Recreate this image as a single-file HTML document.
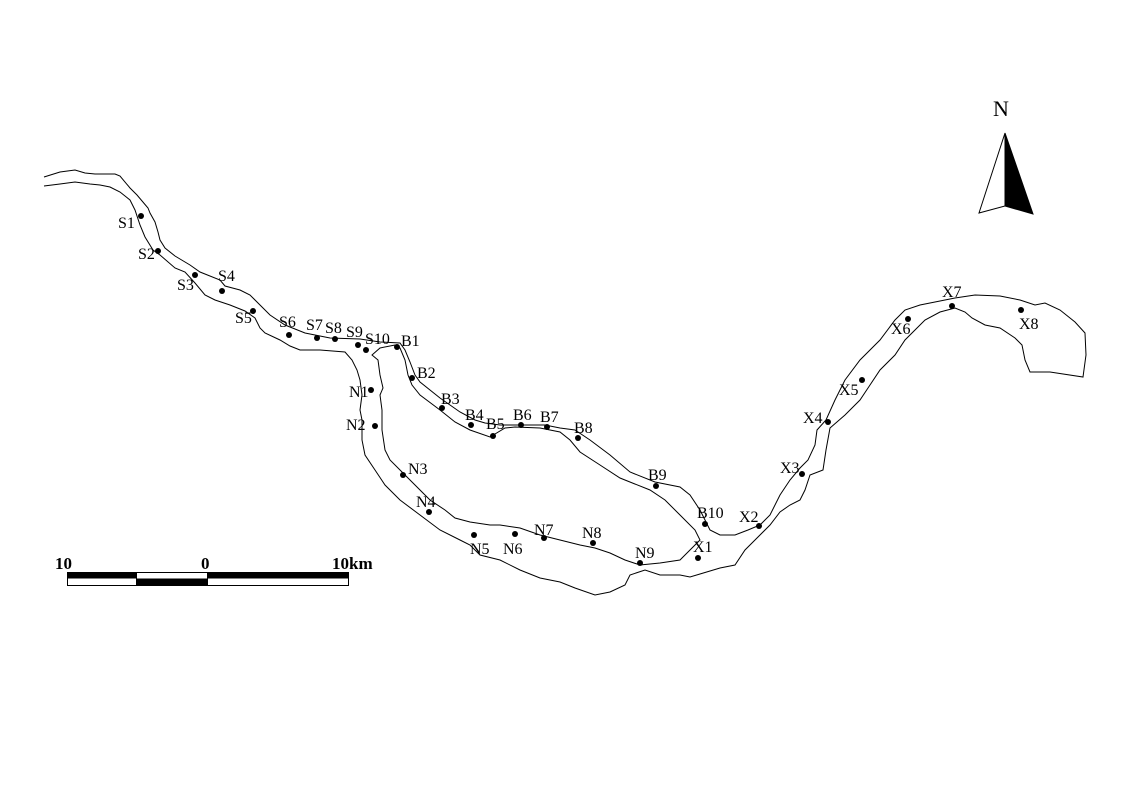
<!DOCTYPE html>
<html><head><meta charset="utf-8"><style>
html,body{margin:0;padding:0;background:#fff;}
svg{display:block;}
text{font-family:"Liberation Serif",serif;font-size:16px;fill:#000;}
</style></head><body>
<svg width="1122" height="793" viewBox="0 0 1122 793" xmlns="http://www.w3.org/2000/svg">
<g fill="none" stroke="#000" stroke-width="1">
<path d="M44,177 L60,172 75,170 85,173 95,174 115,174 120,176 130,188 137,195 148,208 150,213 155,222 158,232 160,240 165,248 175,256 190,265 200,272 220,280 225,286 240,290 250,295 260,305 270,315 285,325 305,333 315,335 330,338 360,339 380,342 400,343 405,350 410,362 415,375 420,382 440,398 460,412 475,420 485,423 500,425 515,425 530,425 545,425 560,428 575,430 590,440 610,455 630,472 655,482 680,487 690,495 700,510 705,520 710,530 720,535 735,535 748,530 760,525 770,515 780,495 790,480 800,468 808,460 815,445 817,430 826,420 835,400 840,390 845,380 860,360 880,340 895,320 905,310 920,305 935,302 955,298 975,295 1000,296 1020,300 1035,305 1045,303 1060,310 1075,322 1085,333 1086,355 1083,377 1050,372 1030,372 1025,360 1022,345 1015,338 1000,328 985,325 972,318 965,312 955,308 940,312 925,320 915,330 905,340 895,355 880,370 870,385 860,400 845,415 830,428 826,450 823,470 810,475 805,490 800,500 790,505 780,512 770,525 755,540 745,550 735,565 720,568 700,574 690,577 680,575 660,575 645,570 630,575 625,585 610,592 595,595 575,588 560,582 540,578 520,570 500,560 480,555 470,545 460,540 440,530 420,515 400,500 385,485 375,470 365,455 362,440 362,420 360,410 362,395 360,380 357,370 352,360 345,352 320,350 300,350 290,346 280,340 265,333 260,328 255,318 245,311 230,305 215,300 205,295 195,283 185,272 175,268 160,255 153,250 145,237 140,225 135,210 130,200 120,192 110,187 100,185 90,184 75,182 60,184 44,186"/>
<path d="M372,355 L380,348 395,345 400,348 405,360 408,375 412,385 420,395 440,410 455,422 470,430 490,437 505,428 515,427 540,428 560,432 570,440 580,452 600,465 620,478 650,490 665,500 680,515 695,530 700,540 690,550 680,560 660,563 640,565 625,560 610,553 595,548 580,545 560,540 540,535 520,528 500,525 490,525 470,522 455,518 445,510 430,500 420,490 405,475 390,460 385,450 382,430 382,410 380,395 383,388 380,375 378,360 Z"/>
</g>
<g fill="#000">
<circle cx="141" cy="216" r="3"/><circle cx="158" cy="251" r="3"/><circle cx="195" cy="275" r="3"/><circle cx="222" cy="291" r="3"/><circle cx="253" cy="311" r="3"/><circle cx="289" cy="335" r="3"/><circle cx="317" cy="338" r="3"/><circle cx="335" cy="339" r="3"/><circle cx="358" cy="345" r="3"/><circle cx="366" cy="350" r="3"/>
<circle cx="397" cy="347" r="3"/><circle cx="412" cy="378" r="3"/><circle cx="442" cy="408" r="3"/><circle cx="471" cy="425" r="3"/><circle cx="493" cy="436" r="3"/><circle cx="521" cy="425" r="3"/><circle cx="547" cy="427" r="3"/><circle cx="578" cy="438" r="3"/><circle cx="656" cy="486" r="3"/><circle cx="705" cy="524" r="3"/>
<circle cx="371" cy="390" r="3"/><circle cx="375" cy="426" r="3"/><circle cx="403" cy="475" r="3"/><circle cx="429" cy="512" r="3"/><circle cx="474" cy="535" r="3"/><circle cx="515" cy="534" r="3"/><circle cx="544" cy="538" r="3"/><circle cx="593" cy="543" r="3"/><circle cx="640" cy="563" r="3"/>
<circle cx="698" cy="558" r="3"/><circle cx="759" cy="526" r="3"/><circle cx="802" cy="474" r="3"/><circle cx="828" cy="422" r="3"/><circle cx="862" cy="380" r="3"/><circle cx="908" cy="319" r="3"/><circle cx="952" cy="306" r="3"/><circle cx="1021" cy="310" r="3"/>
</g>
<g>
<text x="118" y="228">S1</text><text x="138" y="259">S2</text><text x="177" y="290">S3</text><text x="218" y="281">S4</text><text x="235" y="323">S5</text><text x="279" y="327">S6</text><text x="306" y="330">S7</text><text x="325" y="333">S8</text><text x="346" y="337">S9</text><text x="365" y="344">S10</text>
<text x="401" y="346">B1</text><text x="417" y="378">B2</text><text x="441" y="404">B3</text><text x="465" y="420">B4</text><text x="486" y="429">B5</text><text x="513" y="420">B6</text><text x="540" y="422">B7</text><text x="574" y="433">B8</text><text x="648" y="480">B9</text><text x="697" y="518">B10</text>
<text x="349" y="397">N1</text><text x="346" y="430">N2</text><text x="408" y="474">N3</text><text x="416" y="507">N4</text><text x="470" y="554">N5</text><text x="503" y="554">N6</text><text x="534" y="535">N7</text><text x="582" y="538">N8</text><text x="635" y="558">N9</text>
<text x="693" y="552">X1</text><text x="739" y="522">X2</text><text x="780" y="473">X3</text><text x="803" y="423">X4</text><text x="839" y="395">X5</text><text x="891" y="334">X6</text><text x="942" y="297">X7</text><text x="1019" y="329">X8</text>
</g>
<text x="993" y="116" style="font-size:22px">N</text>
<polygon points="1005,133 979,213 1005,206" fill="#fff" stroke="#000"/>
<polygon points="1005,133 1005,206 1033,214" fill="#000" stroke="#000"/>
<text x="55" y="569" style="font-size:17px;font-weight:bold">10</text>
<text x="201" y="569" style="font-size:17px;font-weight:bold">0</text>
<text x="332" y="569" style="font-size:17px;font-weight:bold">10km</text>
<rect x="67.5" y="572.5" width="281" height="13" fill="#fff" stroke="#000"/>
<rect x="67" y="572" width="70" height="6.5" fill="#000"/>
<rect x="207" y="572" width="141" height="6.5" fill="#000"/>
<rect x="136" y="578.5" width="72" height="7" fill="#000"/>
</svg>
</body></html>
